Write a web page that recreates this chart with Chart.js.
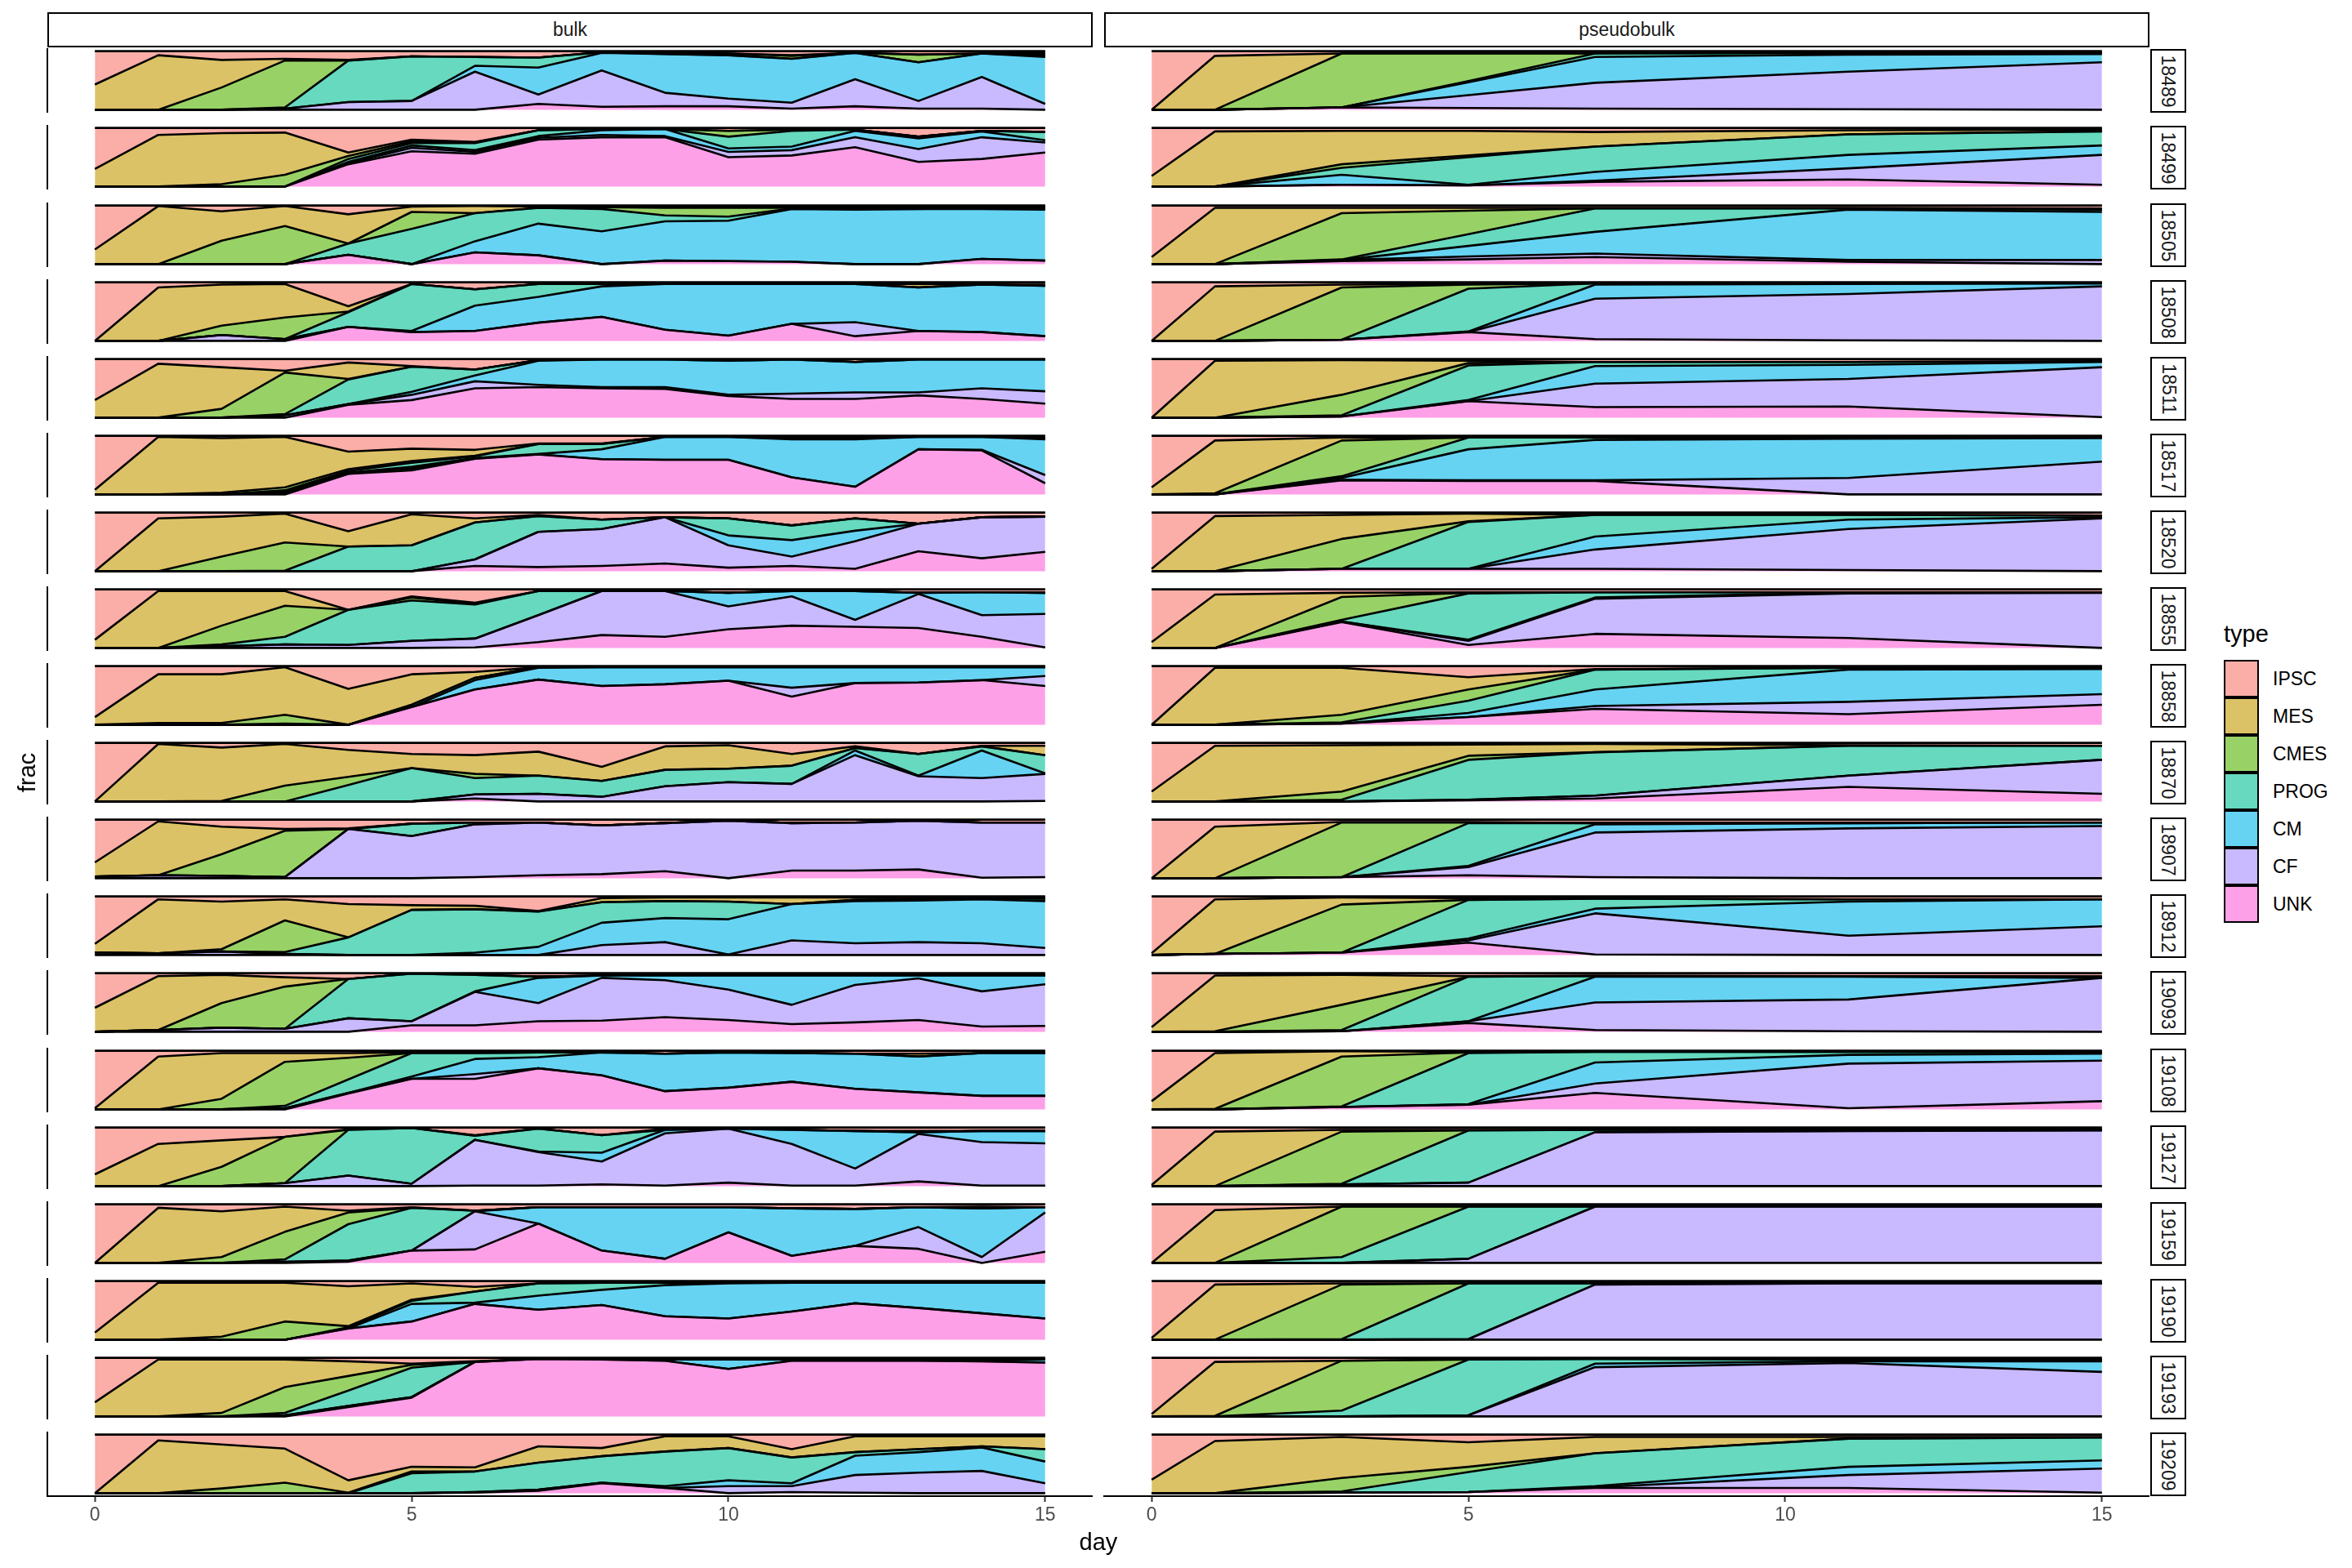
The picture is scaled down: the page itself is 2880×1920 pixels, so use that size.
<!DOCTYPE html>
<html>
<head>
<meta charset="utf-8">
<script src="https://cdn.jsdelivr.net/npm/chart.js@4.4.0/dist/chart.umd.min.js"></script>
<style>
html,body{margin:0;padding:0;background:#fff;}
#root{position:relative;width:2880px;height:1920px;overflow:hidden;background:#fff;font-family:"Liberation Sans",Arial,Helvetica,sans-serif;}
.strip-top{position:absolute;box-sizing:border-box;border:2.3px solid #000;background:#fff;display:flex;align-items:center;justify-content:center;font-size:23px;color:#1a1a1a;}
.strip-right{position:absolute;box-sizing:border-box;border:2.3px solid #000;background:#fff;display:flex;align-items:center;justify-content:center;}
.strip-right span{display:block;transform:rotate(90deg);white-space:nowrap;font-size:23px;color:#1a1a1a;}
.lab{position:absolute;white-space:nowrap;color:#000;}
.key{position:absolute;box-sizing:border-box;border:2.3px solid #000;}
</style>
</head>
<body>
<div id="root"></div>
<script>
// ---------------- DATA ----------------
const DAYS_BULK = [0,1,2,3,4,5,6,7,8,9,10,11,12,13,14,15];
const DAYS_PSEUDO = [0,1,3,5,7,11,15];
const X_TICKS = [0,5,10,15];
const PANELS = ['bulk','pseudobulk'];
const TYPES = ['IPSC','MES','CMES','PROG','CM','CF','UNK'];
const SAMPLES = ['18489','18499','18505','18508','18511','18517','18520','18855','18858','18870','18907','18912','19093','19108','19127','19159','19190','19193','19209'];

// bulk: percent of cells per type (rows follow TYPES), one column per day in DAYS_BULK
const bulk_18489 = [
 [57,7,15,13,15,9,10,11,2,3,4,7,3,6,4,3],
 [43,93,47,3,1,0,0,0,0,0,0,1,0,0,0,3],
 [0,0,38,80,0,0,0,0,0,2,3,5,0,13,0,2],
 [0,0,0,2,71,76,15,17,1,0,0,0,0,0,0,2],
 [0,0,0,0,0,0,10,46,30,66,74,75,45,66,40,80],
 [0,0,0,2,13,15,65,16,62,23,13,10,46,13,54,10],
 [0,0,0,0,0,0,0,10,5,6,6,2,6,2,2,0]];
const bulk_18499 = [
 [70,12,9,8,42,20,24,4,2,2,5,3,3,15,5,7],
 [30,88,87,72,6,3,1,0,0,0,0,0,0,0,0,0],
 [0,0,4,20,5,3,1,0,0,0,10,2,0,0,0,0],
 [0,0,0,0,5,4,12,10,2,0,20,27,2,3,1,14],
 [0,0,0,0,2,4,3,3,8,12,6,6,11,18,10,4],
 [0,0,0,0,2,6,3,3,4,2,9,9,17,22,37,17],
 [0,0,0,0,38,60,56,80,84,84,50,53,67,42,47,58]];
const bulk_18505 = [
 [75,1,10,1,15,2,1,2,1,2,2,2,2,2,2,2],
 [25,99,50,34,50,9,12,2,2,2,2,2,1,3,2,2],
 [0,0,40,65,0,29,0,0,3,13,15,1,3,1,0,0],
 [0,0,0,0,19,60,48,27,38,10,7,1,1,0,2,3],
 [0,0,0,0,0,0,19,54,56,67,69,90,93,94,85,87],
 [0,0,0,0,0,0,0,0,0,0,0,0,0,0,0,0],
 [0,0,0,0,16,0,20,15,0,6,5,4,0,0,9,6]];
const bulk_18508 = [
 [100,9,4,3,41,3,12,3,3,3,3,3,3,3,4,4],
 [0,91,70,57,9,0,0,0,0,0,0,0,0,6,0,2],
 [0,0,16,37,1,0,0,0,0,0,0,0,0,0,0,0],
 [0,0,0,0,25,80,28,22,4,0,0,0,0,0,0,0],
 [0,0,0,0,0,2,43,44,52,78,88,68,65,74,81,86],
 [0,0,10,3,0,0,0,0,0,0,0,0,24,0,0,0],
 [0,0,0,0,24,15,17,31,41,19,9,29,8,17,15,8]];
const bulk_18511 = [
 [70,8,14,20,6,12,18,2,1,1,3,1,5,1,1,1],
 [30,92,71,3,28,1,0,0,0,0,0,0,0,0,0,0],
 [0,0,15,71,1,0,0,0,0,0,0,0,0,0,0,0],
 [0,0,0,2,42,43,10,1,0,0,0,0,0,0,0,0],
 [0,0,0,0,0,5,10,41,47,47,58,58,52,56,49,54],
 [0,0,0,4,1,9,12,4,2,3,2,9,11,5,18,21],
 [0,0,0,0,22,30,50,52,50,49,37,32,32,38,32,24]];
const bulk_18517 = [
 [92,2,4,2,27,22,24,13,13,2,2,3,3,2,2,4],
 [8,98,93,86,30,21,10,1,1,0,0,0,1,0,0,0],
 [0,0,3,5,3,3,1,0,0,0,0,2,1,0,0,0],
 [0,0,0,2,3,7,3,17,9,0,0,1,1,0,0,2],
 [0,0,0,2,2,3,1,1,17,39,39,65,81,21,22,61],
 [0,0,0,3,0,3,0,0,0,0,0,0,0,0,1,14],
 [0,0,0,0,35,41,61,68,60,59,59,29,13,77,75,19]];
const bulk_18520 = [
 [100,10,7,2,32,3,10,4,12,8,10,22,10,19,8,7],
 [0,90,68,49,26,53,7,2,0,0,0,0,0,0,0,0],
 [0,0,25,48,0,0,0,0,0,0,0,0,0,0,0,0],
 [0,0,0,1,42,44,63,27,16,0,29,25,21,0,0,0],
 [0,0,0,0,0,0,0,0,0,0,17,28,18,0,0,0],
 [0,0,0,0,0,0,11,60,63,79,38,16,47,47,70,60],
 [0,0,0,0,0,0,9,7,9,13,6,9,4,34,22,33]];
const bulk_18855 = [
 [86,3,3,3,35,12,23,3,3,3,6,3,3,6,5,6],
 [14,97,59,25,0,2,2,0,0,0,0,0,0,0,0,0],
 [0,0,32,53,0,5,1,0,0,0,0,0,0,0,0,0],
 [0,0,3,13,60,69,58,41,0,0,0,0,0,0,0,0],
 [0,0,0,0,0,0,0,0,0,0,23,9,49,2,39,36],
 [0,0,3,6,5,12,15,46,75,78,39,50,12,58,37,57],
 [0,0,0,0,0,0,1,10,22,19,32,38,36,34,19,1]];
const bulk_18858 = [
 [87,14,14,2,39,14,10,2,2,2,2,2,2,2,2,2],
 [13,83,83,81,61,52,10,0,0,0,0,0,0,0,0,0],
 [0,3,3,15,0,0,0,0,0,0,0,0,0,0,0,0],
 [0,0,0,2,0,4,4,1,0,0,0,0,0,0,0,0],
 [0,0,0,0,0,0,16,20,32,29,23,35,27,26,22,15],
 [0,0,0,0,0,0,0,0,0,0,0,15,0,0,0,17],
 [0,0,0,0,0,30,60,77,66,69,75,48,71,72,76,66]];
const bulk_18870 = [
 [100,2,8,2,12,19,21,15,41,6,4,19,6,19,5,5],
 [0,98,91,71,46,24,32,41,24,40,40,20,3,0,1,16],
 [0,0,1,27,14,0,7,0,0,0,0,0,0,0,0,0],
 [0,0,0,0,28,57,28,31,27,28,23,31,4,37,7,31],
 [0,0,0,0,0,0,0,0,0,0,0,0,8,1,47,1],
 [0,0,0,0,0,0,7,13,8,26,33,30,79,43,40,46],
 [0,0,0,0,0,0,5,0,0,0,0,0,0,0,0,1]];
const bulk_18907 = [
 [73,3,12,16,15,7,5,5,10,6,2,6,5,2,5,5],
 [24,92,47,3,1,0,0,0,0,0,0,0,0,0,0,0],
 [0,0,37,79,0,0,0,0,0,0,0,0,0,0,0,0],
 [0,0,0,0,0,21,3,0,0,0,0,0,0,0,0,0],
 [0,0,0,0,0,0,0,0,0,0,0,0,0,0,0,0],
 [3,5,4,2,84,72,90,90,83,82,98,81,82,83,94,93],
 [0,0,0,0,0,0,2,5,7,12,0,13,13,15,1,2]];
const bulk_18912 = [
 [81,5,9,5,13,15,16,25,3,2,2,2,2,2,2,2],
 [15,92,81,36,57,8,6,1,7,6,7,11,4,3,1,2],
 [0,0,4,54,0,0,0,0,0,0,0,0,0,0,0,0],
 [0,0,0,3,30,77,74,60,35,29,30,0,2,2,2,4],
 [0,0,0,0,0,0,4,14,38,41,60,62,72,71,75,80],
 [4,3,6,2,0,0,0,0,17,22,1,25,20,22,20,12],
 [0,0,0,0,0,0,0,0,0,0,0,0,0,0,0,0]];
const bulk_19093 = [
 [59,5,3,7,10,1,3,6,4,4,4,4,4,4,4,4],
 [41,92,48,16,0,0,0,0,0,0,0,0,0,0,0,0],
 [0,0,42,72,0,0,0,0,0,0,0,0,0,0,0,0],
 [0,0,0,0,67,81,28,2,0,0,0,0,0,0,0,0],
 [0,0,0,0,0,0,1,43,4,8,24,50,16,5,27,15],
 [0,3,7,5,23,7,57,31,73,63,52,33,64,71,60,71],
 [0,0,0,0,0,11,11,18,19,25,20,13,16,20,9,10]];
const bulk_19108 = [
 [98,10,4,4,4,3,4,3,3,5,3,4,5,5,4,4],
 [2,90,78,15,8,1,0,0,0,0,0,0,0,5,0,0],
 [0,0,18,75,37,0,0,0,0,0,0,0,0,0,0,0],
 [0,0,0,4,23,40,10,8,0,0,0,0,0,0,0,0],
 [0,0,0,0,0,4,26,19,39,64,60,49,60,61,73,73],
 [0,0,0,2,1,0,8,0,0,0,0,0,0,0,0,0],
 [0,0,0,0,27,52,52,70,58,31,37,47,35,29,23,23]];
const bulk_19127 = [
 [80,28,22,16,3,1,13,2,13,2,2,4,6,6,6,6],
 [20,72,45,0,1,0,1,0,0,2,0,0,0,2,0,0],
 [0,0,33,79,0,0,0,0,0,0,0,0,0,0,0,0],
 [0,0,0,0,78,95,7,39,30,0,0,0,0,0,0,0],
 [0,0,0,0,0,0,0,1,15,6,0,24,64,3,19,21],
 [0,0,0,5,18,4,78,57,39,89,92,71,29,81,74,72],
 [0,0,0,0,0,0,1,1,3,1,6,1,1,8,1,1]];
const bulk_19159 = [
 [100,6,12,4,11,5,11,5,5,5,5,7,8,5,4,5],
 [0,94,78,43,3,1,0,0,0,0,0,0,0,0,3,0],
 [0,0,10,47,20,0,0,0,0,0,0,0,0,0,0,0],
 [0,0,0,4,62,73,1,0,0,0,0,0,0,0,0,0],
 [0,0,0,0,0,0,0,28,74,88,43,81,63,34,83,9],
 [0,0,0,2,2,0,65,0,0,0,0,0,0,37,10,67],
 [0,0,0,0,2,21,23,67,21,7,52,12,29,24,0,19]];
const bulk_19190 = [
 [88,3,3,3,9,4,10,4,3,3,3,3,3,3,3,3],
 [12,97,92,66,68,28,8,0,0,0,0,0,0,0,0,0],
 [0,0,5,31,2,2,0,0,0,0,0,0,0,0,0,0],
 [0,0,0,0,2,5,19,21,12,4,1,0,0,0,0,0],
 [0,0,0,0,0,30,2,24,26,53,60,49,35,43,52,61],
 [0,0,0,0,0,0,0,0,0,0,0,0,0,0,0,0],
 [0,0,0,0,19,31,61,51,59,40,36,48,62,54,45,36]];
const bulk_19193 = [
 [76,3,3,3,6,10,6,2,3,3,3,3,3,3,3,3],
 [24,97,91,47,25,2,1,0,0,0,0,0,0,0,0,0],
 [0,0,6,44,25,5,0,0,0,0,0,0,0,0,0,0],
 [0,0,0,4,26,50,0,0,0,0,0,0,0,0,0,0],
 [0,0,0,0,0,0,0,0,0,2,16,2,2,2,3,5],
 [0,0,0,2,2,1,0,0,0,0,0,0,0,0,0,0],
 [0,0,0,0,16,32,93,98,97,95,81,95,95,95,94,92]];
const bulk_19209 = [
 [100,10,17,24,78,55,56,20,23,3,3,25,3,3,3,3],
 [0,90,75,58,21,8,7,28,14,26,20,14,27,22,17,22],
 [0,0,8,18,1,3,0,0,0,0,0,0,0,0,0,0],
 [0,0,0,0,0,34,35,46,45,59,55,44,6,5,2,21],
 [0,0,0,0,0,0,0,0,0,3,10,5,33,35,40,37],
 [0,0,0,0,0,0,1,2,1,0,12,10,30,35,38,17],
 [0,0,0,0,0,0,1,4,17,9,0,2,1,0,0,0]];

// pseudobulk: percent per type (rows follow TYPES), one column per day in DAYS_PSEUDO
const pseudo_18489 = [[100,8,4,4,4,3,3],[0,92,0,0,0,0,0],[0,0,92,47,0,0,0],[0,0,0,2,6,3,2],[0,0,0,22,44,29,14],[0,0,0,22,44,64,81],[0,0,4,3,2,1,0]];
const pseudo_18499 = [[82,6,5,5,7,4,3],[18,94,57,42,25,7,3],[0,0,6,3,0,0,0],[0,0,12,47,43,35,24],[0,0,17,1,15,23,16],[0,0,0,0,2,19,51],[0,0,3,2,8,12,3]];
const pseudo_18505 = [[88,4,4,4,4,4,5],[12,96,9,5,1,1,2],[0,0,79,40,0,0,0],[0,0,1,20,40,2,4],[0,0,0,18,37,86,82],[0,0,2,5,6,3,7],[0,0,5,8,12,4,0]];
const pseudo_18508 = [[100,7,4,3,2,2,2],[0,93,5,1,0,0,0],[0,0,89,7,0,0,0],[0,0,0,73,2,1,0],[0,0,0,1,24,17,5],[0,0,0,0,69,79,93],[0,0,2,15,3,1,0]];
const pseudo_18511 = [[100,3,2,3,5,5,4],[0,97,59,4,0,0,0],[0,0,35,4,0,0,0],[0,0,2,59,7,5,1],[0,0,0,2,30,24,9],[0,0,0,0,40,47,85],[0,0,2,28,18,19,1]];
const pseudo_18517 = [[88,8,3,3,3,3,3],[12,90,5,0,0,0,0],[0,2,61,0,0,0,0],[0,0,3,20,4,2,1],[0,0,3,53,69,67,40],[0,0,1,1,1,28,56],[0,0,24,23,23,0,0]];
const pseudo_18520 = [[96,6,4,2,4,4,5],[4,94,41,13,0,0,0],[0,0,51,1,0,0,0],[0,0,0,80,37,8,3],[0,0,0,0,22,16,2],[0,0,0,0,33,70,90],[0,0,4,4,4,2,0]];
const pseudo_18855 = [[90,9,6,5,5,5,5],[10,91,7,1,0,0,0],[0,0,39,1,0,0,0],[0,0,3,79,9,1,0],[0,0,0,2,2,1,1],[0,0,1,7,60,76,94],[0,0,44,5,24,17,0]];
const pseudo_18858 = [[100,3,3,19,5,3,3],[0,97,80,21,1,0,0],[0,0,13,19,0,0,0],[0,0,2,21,34,3,2],[0,0,0,7,28,55,43],[0,0,0,0,5,21,18],[0,0,2,13,27,18,34]];
const pseudo_18870 = [[83,5,4,3,2,4,5],[17,95,79,19,14,1,0],[0,0,14,7,0,0,0],[0,0,3,68,74,51,24],[0,0,0,0,0,0,0],[0,0,0,1,5,19,58],[0,0,0,2,5,25,13]];
const pseudo_18907 = [[100,12,4,4,6,6,5],[0,88,1,1,0,0,0],[0,0,93,1,0,0,0],[0,0,0,73,2,0,0],[0,0,0,2,14,9,6],[0,0,0,14,76,85,89],[0,0,2,5,2,0,0]];
const pseudo_18912 = [[97,5,2,3,4,5,5],[3,93,12,3,0,0,0],[0,0,82,0,0,0,0],[0,0,0,66,17,4,0],[0,0,0,3,8,58,46],[0,0,0,4,70,33,49],[0,2,4,21,1,0,0]];
const pseudo_19093 = [[92,4,3,5,4,5,6],[8,95,51,1,1,0,0],[0,1,43,0,0,0,0],[0,0,2,76,1,1,2],[0,0,0,0,44,39,0],[0,0,0,3,47,54,92],[0,0,1,15,3,1,0]];
const pseudo_19108 = [[86,4,1,2,2,2,3],[14,95,9,1,0,0,0],[0,1,85,1,0,0,0],[0,0,1,87,18,5,2],[0,0,0,1,36,15,12],[0,0,0,0,16,76,69],[0,0,4,8,28,2,14]];
const pseudo_19127 = [[98,7,4,4,4,4,4],[2,93,3,1,0,0,0],[0,0,89,0,0,0,0],[0,0,1,89,4,2,1],[0,0,0,0,0,0,0],[0,0,3,6,92,94,95],[0,0,0,0,0,0,0]];
const pseudo_19159 = [[100,10,4,4,4,4,4],[0,90,0,0,0,0,0],[0,0,86,0,0,0,0],[0,0,10,89,0,0,0],[0,0,0,0,0,0,0],[0,0,0,7,96,96,96],[0,0,0,0,0,0,0]];
const pseudo_19190 = [[97,6,4,4,4,4,4],[3,94,2,0,0,0,0],[0,0,93,0,0,0,0],[0,0,1,95,2,0,0],[0,0,0,0,0,0,0],[0,0,0,1,94,96,96],[0,0,0,0,0,0,0]];
const pseudo_19193 = [[96,7,5,3,2,3,4],[4,92,0,0,0,0,0],[0,1,85,0,0,0,0],[0,0,10,95,8,3,2],[0,0,0,0,6,3,18],[0,0,0,2,84,91,76],[0,0,0,0,0,0,0]];
const pseudo_19209 = [[77,11,4,13,4,4,4],[23,89,70,42,28,3,1],[0,0,23,9,0,0,0],[0,0,2,34,56,48,39],[0,0,0,0,2,14,14],[0,0,0,0,1,22,41],[0,0,1,2,9,9,1]];

// lookup tables built from the arrays above
const BULK = {'18489':bulk_18489,'18499':bulk_18499,'18505':bulk_18505,'18508':bulk_18508,'18511':bulk_18511,'18517':bulk_18517,'18520':bulk_18520,'18855':bulk_18855,'18858':bulk_18858,'18870':bulk_18870,'18907':bulk_18907,'18912':bulk_18912,'19093':bulk_19093,'19108':bulk_19108,'19127':bulk_19127,'19159':bulk_19159,'19190':bulk_19190,'19193':bulk_19193,'19209':bulk_19209};
const PSEUDO = {'18489':pseudo_18489,'18499':pseudo_18499,'18505':pseudo_18505,'18508':pseudo_18508,'18511':pseudo_18511,'18517':pseudo_18517,'18520':pseudo_18520,'18855':pseudo_18855,'18858':pseudo_18858,'18870':pseudo_18870,'18907':pseudo_18907,'18912':pseudo_18912,'19093':pseudo_19093,'19108':pseudo_19108,'19127':pseudo_19127,'19159':pseudo_19159,'19190':pseudo_19190,'19193':pseudo_19193,'19209':pseudo_19209};

// ---------------- STYLE / LAYOUT ----------------
const TYPE_RGB = {IPSC:[248,118,109],MES:[196,154,0],CMES:[83,180,0],PROG:[0,192,148],CM:[0,182,235],CF:[165,138,255],UNK:[251,97,215]};
const ALPHA = 0.6;
const rgba = t => { const c = TYPE_RGB[t]; return `rgba(${c[0]},${c[1]},${c[2]},${ALPHA})`; };
const STACK_ORDER = ['UNK','CF','CM','PROG','CMES','MES','IPSC']; // bottom -> top
const FONT = '"Liberation Sans", Arial, Helvetica, sans-serif';
Chart.defaults.font.family = FONT;

const root = document.getElementById('root');
const PADL = 10, AXIS_H = 60;
const COL_LEFT = [58, 1352], COL_W = 1280, PANEL_H = 79;
const rowTop = i => Math.round(59.3 + 94.1 * i);

function addDiv(cls, css, html) {
  const d = document.createElement('div');
  d.className = cls; d.style.cssText = css; d.innerHTML = html || '';
  root.appendChild(d); return d;
}

// top strips
PANELS.forEach((p, c) => {
  addDiv('strip-top', `left:${COL_LEFT[c]}px;top:15px;width:${COL_W}px;height:43px;`, p);
});

SAMPLES.forEach((s, i) => {
  const top = rowTop(i);
  const isBottom = i === SAMPLES.length - 1;
  [0, 1].forEach(c => {
    const days = c === 0 ? DAYS_BULK : DAYS_PSEUDO;
    const mat = c === 0 ? BULK[s] : PSEUDO[s];
    const w = COL_W + PADL, h = PANEL_H + (isBottom ? AXIS_H : 0);
    const cv = document.createElement('canvas');
    cv.width = w; cv.height = h;
    cv.style.cssText = `position:absolute;left:${COL_LEFT[c] - PADL}px;top:${top}px;width:${w}px;height:${h}px;`;
    root.appendChild(cv);
    const datasets = STACK_ORDER.map((t, k) => ({
      label: t,
      data: days.map((d, j) => ({x: d, y: mat[TYPES.indexOf(t)][j] / 100})),
      backgroundColor: rgba(t),
      borderColor: '#000',
      borderWidth: 2.6,
      borderJoinStyle: 'round',
      pointRadius: 0,
      pointHoverRadius: 0,
      tension: 0,
      fill: k === 0 ? 'origin' : '-1'
    }));
    new Chart(cv, {
      type: 'line',
      data: {datasets},
      options: {
        responsive: false, maintainAspectRatio: false, animation: false, devicePixelRatio: 1,
        events: [],
        layout: {padding: {left: PADL, right: 0, top: 0, bottom: 0}},
        plugins: {legend: {display: false}, tooltip: {enabled: false}},
        scales: {
          x: {
            type: 'linear', min: -0.75, max: 15.75, display: isBottom,
            afterBuildTicks: sc => { sc.ticks = X_TICKS.map(v => ({value: v})); },
            afterFit: sc => { sc.height = isBottom ? AXIS_H : 0; },
            ticks: {font: {family: FONT, size: 23}, color: '#4D4D4D', padding: 3, maxRotation: 0, autoSkip: false,
                    callback: v => String(v)},
            grid: {display: true, drawOnChartArea: false, drawTicks: true, tickLength: 7, tickWidth: 2, tickColor: '#333333'},
            border: {display: true, color: '#000', width: 2}
          },
          y: {
            stacked: true, min: -0.05, max: 1.05, display: c === 0,
            afterFit: sc => { sc.width = 0; },
            ticks: {display: false},
            grid: {display: true, drawOnChartArea: false, drawTicks: false},
            border: {display: true, color: '#000', width: 2}
          }
        }
      }
    });
  });
  // right strip
  addDiv('strip-right', `left:2633px;top:${top + 1}px;width:44px;height:${PANEL_H - 1}px;`, `<span>${s}</span>`);
});

// axis titles
addDiv('lab', `left:1345px;top:1872px;font-size:29px;line-height:32px;transform:translateX(-50%);`, 'day');
addDiv('lab', `left:33px;top:946px;font-size:29px;line-height:32px;transform:translate(-50%,-50%) rotate(-90deg);`, 'frac');

// legend
addDiv('lab', `left:2723px;top:762px;font-size:29px;line-height:29px;`, 'type');
TYPES.forEach((t, k) => {
  const y = 808 + 46 * k;
  addDiv('key', `left:2723px;top:${y}px;width:43px;height:46px;background:${rgba(t)};`);
  addDiv('lab', `left:2783px;top:${y}px;height:46px;display:flex;align-items:center;font-size:23px;`, t);
});
</script>
</body>
</html>
